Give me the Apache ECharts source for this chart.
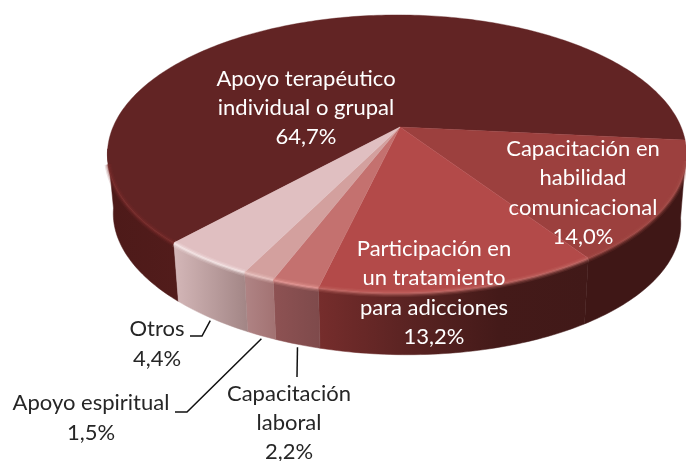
<!DOCTYPE html>
<html>
<head>
<meta charset="utf-8">
<style>html,body{margin:0;padding:0;background:#fff}#c{width:686px;height:461px}</style>
<script src="https://cdn.jsdelivr.net/npm/echarts@6/dist/echarts.min.js"></script>
</head>
<body>
<div id="c"></div>
<script>
var categories = ['Apoyo terapéutico\nindividual o grupal','Capacitación en\nhabilidad\ncomunicacional','Participación en\nun tratamiento\npara adicciones','Capacitación\nlaboral','Apoyo espiritual','Otros'];
var values = [64.7, 14.0, 13.2, 2.2, 1.5, 4.4];

var topColors = ['#622424','#9c403e','#b34a49','#c4716f','#d3a09e','#e0bfc1'];
var wallColors = [
  ['#4d1a19','#521c1b'],
  ['#3f1716','#3f1716'],
  ['#762d2c','#5a2322','#441a19','#411918'],
  ['#8e5253','#7e4a4b'],
  ['#b08485','#a27272'],
  ['#d4b7b8','#a28585']
];
var rimColors = ['#7e2f2e','#a9504c','#c8706c','#ec9f9c','#f0cdca','#fcf0f0'];
var labelAnchors = [[306,108],[583,193],[434,293],[289,423],[91,418],[157,344]];
var labelFills = ['#fff','#fff','#fff','#262626','#262626','#262626'];
var leaderElbows = [null,null,null,[[297,377]],[[175,412],[187,412]],[[190,336],[202,336]]];

var apex = {x:400, y:127}, A = 284, S = 133.8, KV = 0.194, KU = 0.0103;
var firstAngle = 222.6, bottomScale = 0.98, bottomShift = 65, bottomTilt = 0.018;
var visibleFrom = 99, visibleTo = 261, rimFrom = 104, rimTo = 255;

var startAngles = [];
values.reduce(function (sum, v, i) { startAngles[i] = firstAngle + sum / 100 * 360; return sum + v; }, 0);

function rimPoint(deg, bottom) {
  var r = deg * Math.PI / 180, u = Math.sin(r), v = -Math.cos(r);
  var w = 1 + KU * u - KV * v;
  var x = A * u / w, y = S * v / w;
  return bottom ? [apex.x + x * bottomScale, apex.y + y * bottomScale + bottomShift + x * bottomTilt]
                : [apex.x + x, apex.y + y];
}
function arc(a0, a1, bottom) {
  var pts = [], n = Math.max(2, Math.ceil(Math.abs(a1 - a0)));
  for (var i = 0; i <= n; i++) pts.push(rimPoint(a0 + (a1 - a0) * i / n, bottom));
  return pts;
}
function range(i, v) {
  var a0 = startAngles[i], a1 = a0 + v / 100 * 360;
  return [a0, a1];
}
function frontRange(i, v, from, to) {
  var r = range(i, v), off = r[0] >= 360 ? 360 : 0;
  var a0 = Math.max(r[0] - off, from), a1 = Math.min(r[1] - off, to);
  return a1 > a0 ? [a0, a1] : null;
}
function grad(stops) {
  return {type:'linear', x:0, y:0, x2:1, y2:0, colorStops: stops.map(function (c, k) {
    return {offset: k / (stops.length - 1), color: c};
  })};
}
var seriesData = values.map(function (v, i) { return [i, v]; });

function renderWall(p, api) {
  var i = api.value(0), r = frontRange(i, api.value(1), visibleFrom, visibleTo);
  if (!r) return {type:'group', children:[]};
  var pts = arc(r[0], r[1], false).concat(arc(r[1], r[0], true));
  return {type:'polygon', shape:{points:pts}, style:{fill:grad(wallColors[i]), stroke:grad(wallColors[i]), lineWidth:0.5}, silent:true};
}
function renderTop(p, api) {
  var i = api.value(0), r = range(i, api.value(1));
  var pts = [[apex.x, apex.y]].concat(arc(r[0], r[1], false));
  return {type:'polygon', shape:{points:pts}, style:{fill:topColors[i], stroke:topColors[i], lineWidth:0.4}, silent:true};
}
function renderRim(p, api) {
  var i = api.value(0), r = frontRange(i, api.value(1), rimFrom, rimTo);
  if (!r) return {type:'group', children:[]};
  var pts = arc(r[0], r[1], false).map(function (q) { return [q[0], q[1] + 0.5]; });
  function stroke(width, opacity) {
    return {type:'polyline', shape:{points:pts}, style:{fill:null, stroke:rimColors[i], lineWidth:width, opacity:opacity, lineCap:'butt'}, silent:true};
  }
  return {type:'group', children:[stroke(7, 0.15), stroke(4.5, 0.25), stroke(2, 0.55)]};
}
function pct(v) { return v.toFixed(1).replace('.', ',') + '%'; }
function renderLabel(p, api) {
  var i = api.value(0), v = api.value(1), r = range(i, v), kids = [];
  var a = labelAnchors[i];
  kids.push({type:'text', style:{text:categories[i] + '\n' + pct(v), x:a[0], y:a[1], fill:labelFills[i],
    font:'22px Lato, Carlito, sans-serif', align:'center', verticalAlign:'middle', lineHeight:29.3}, silent:true});
  if (leaderElbows[i]) {
    var t = rimPoint((r[0] + r[1]) / 2, true);
    kids.push({type:'polyline', shape:{points:leaderElbows[i].concat([[t[0], t[1] + 3]])},
      style:{fill:null, stroke:'#111', lineWidth:1.5}, silent:true});
  }
  return {type:'group', children:kids};
}
function layer(fn, z) {
  return {type:'custom', coordinateSystem:'none', data:seriesData, renderItem:fn, z:z, animation:false, silent:true, clip:false};
}
var chart = echarts.init(document.getElementById('c'), null, {renderer:'canvas'});
chart.setOption({
  backgroundColor:'#ffffff',
  animation:false,
  tooltip:{show:false},
  series:[layer(renderWall,1), layer(renderTop,2), layer(renderRim,3), layer(renderLabel,4)]
});
</script>
</body>
</html>
